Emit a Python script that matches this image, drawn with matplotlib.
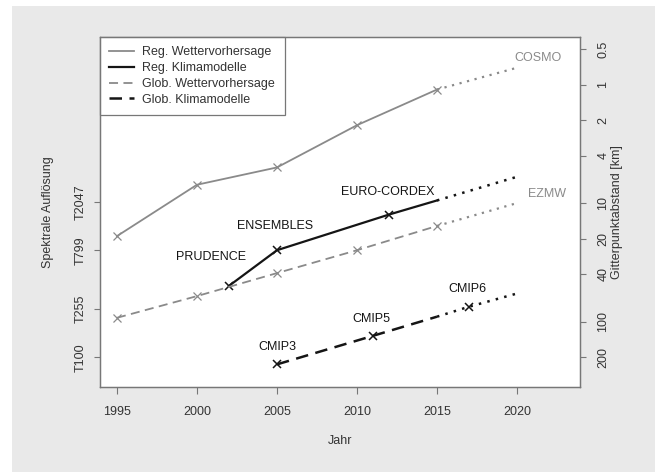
import matplotlib
matplotlib.use("Agg")
import matplotlib.pyplot as plt
from matplotlib.lines import Line2D
from matplotlib.patches import Rectangle

plt.rcParams['font.family'] = ['Liberation Sans', 'DejaVu Sans']
plt.rcParams['font.size'] = 9

GRAY = '#8a8a8a'
BLACK = '#151515'
TXT = '#333333'

# Daten (Gitterpunktabstand in km)
reg_wetter_jahre = [1995, 2000, 2005, 2010, 2015]
reg_wetter_km = [19, 7, 5, 2.2, 1.1]
reg_wetter_proj_jahre = [2015, 2020]
reg_wetter_proj_km = [1.1, 0.72]

reg_klima_jahre = [2002, 2005, 2012, 2015]
reg_klima_km = [50, 25, 12.5, 9.5]
reg_klima_proj_jahre = [2015, 2020]
reg_klima_proj_km = [9.5, 6]

glob_wetter_jahre = [1995, 2000, 2005, 2010, 2015]
glob_wetter_km = [93, 61, 39, 25, 15.6]
glob_wetter_proj_jahre = [2015, 2020]
glob_wetter_proj_km = [15.6, 10]

glob_klima_jahre = [2005, 2011, 2015]
glob_klima_km = [230, 132, 91]
glob_klima_proj_jahre = [2015, 2017, 2020]
glob_klima_proj_km = [91, 75, 58]

# Beschriftungen: (Text, Jahr, km, Farbe)
labels = [
    ('COSMO', 2021.3, 0.595, GRAY),
    ('EZMW', 2021.9, 8.4, GRAY),
    ('EURO-CORDEX', 2011.9, 8.06, BLACK),
    ('ENSEMBLES', 2004.9, 15.6, BLACK),
    ('PRUDENCE', 2000.9, 28.5, BLACK),
    ('CMIP3', 2005, 164, BLACK),
    ('CMIP5', 2010.9, 95, BLACK),
    ('CMIP6', 2016.9, 53, BLACK),
]

spektral_labels = ['T100', 'T255', 'T799', 'T2047']
spektral_T = [100, 255, 799, 2047]
km_ticks = [0.5, 1, 2, 4, 10, 20, 40, 100, 200]
jahr_ticks = [1995, 2000, 2005, 2010, 2015, 2020]

fig = plt.figure(figsize=(6.55, 4.72), dpi=100, facecolor='white')
fig.patches.append(Rectangle((12 / 655, 0), 1, 1 - 6 / 472, transform=fig.transFigure,
                             facecolor='#e9e9e9', edgecolor='none', zorder=-10))
ax = fig.add_axes([100 / 655, 1 - 387 / 472, 480 / 655, 350 / 472])
ax.set_facecolor('white')

dot = (0, (1, 2.5))
dash = (0, (5, 3))
ms = 5.5

ax.plot(reg_wetter_jahre, reg_wetter_km, color=GRAY, lw=1.3, marker='x', ms=ms, mew=0.9)
ax.plot(reg_wetter_proj_jahre, reg_wetter_proj_km, color=GRAY, lw=1.6, ls=dot)

ax.plot(reg_klima_jahre, reg_klima_km, color=BLACK, lw=1.6, marker='x', ms=ms, mew=1.1,
        markevery=[0, 1, 2])
ax.plot(reg_klima_proj_jahre, reg_klima_proj_km, color=BLACK, lw=1.8, ls=dot)

ax.plot(glob_wetter_jahre, glob_wetter_km, color=GRAY, lw=1.3, ls=dash, marker='x', ms=ms, mew=0.9)
ax.plot(glob_wetter_proj_jahre, glob_wetter_proj_km, color=GRAY, lw=1.6, ls=dot)

ax.plot(glob_klima_jahre, glob_klima_km, color=BLACK, lw=1.8, ls=dash, marker='x', ms=ms, mew=1.1,
        markevery=[0, 1])
ax.plot(glob_klima_proj_jahre, glob_klima_proj_km, color=BLACK, lw=1.8, ls=dot, marker='x', ms=ms,
        mew=1.1, markevery=[1])

for txt, x, y, c in labels:
    ax.text(x, y, txt, color=c, ha='center', va='center', fontsize=9)

ax.set_yscale('log')
ax.set_xlim(1993.94, 2023.94)
ax.set_ylim(357, 0.396)
ax.set_xticks(jahr_ticks)
ax.set_yticks([20000 / t for t in spektral_T])
ax.set_yticklabels(spektral_labels, rotation=90, va='center')
ax.minorticks_off()
ax.tick_params(axis='x', length=5, width=0.8, color='#777777', labelcolor=TXT, pad=9)
ax.tick_params(axis='y', length=4.5, width=0.8, color='#777777', labelcolor=TXT, pad=5)

ax2 = ax.twinx()
ax2.set_yscale('log')
ax2.set_ylim(357, 0.396)
ax2.set_yticks(km_ticks)
ax2.set_yticklabels([str(k) for k in km_ticks], rotation=90, va='center')
ax2.minorticks_off()
ax2.tick_params(axis='y', length=4.5, width=0.8, color='#777777', labelcolor=TXT, pad=8)

for a in (ax, ax2):
    for s in a.spines.values():
        s.set_color('#777777')
        s.set_linewidth(0.9)

handles = [
    Line2D([], [], color=GRAY, lw=1.3),
    Line2D([], [], color=BLACK, lw=1.6),
    Line2D([], [], color=GRAY, lw=1.3, ls=dash),
    Line2D([], [], color=BLACK, lw=1.8, ls=dash),
]
names = ['Reg. Wettervorhersage', 'Reg. Klimamodelle', 'Glob. Wettervorhersage', 'Glob. Klimamodelle']
leg = ax.legend(handles, names, loc='upper left', bbox_to_anchor=(0, 1), borderaxespad=0,
                fancybox=False, framealpha=1, edgecolor='#777777', fontsize=9,
                handlelength=2.0, labelspacing=0.3, borderpad=0.75, handletextpad=0.65)
leg.get_frame().set_linewidth(0.9)
for t in leg.get_texts():
    t.set_color(TXT)

fig.text(340 / 655, 1 - 441 / 472, 'Jahr', ha='center', va='center', color=TXT, fontsize=9)
fig.text(48 / 655, 1 - 212 / 472, 'Spektrale Auflösung', ha='center', va='center',
         rotation=90, color=TXT, fontsize=9)
fig.text(617 / 655, 1 - 212 / 472, 'Gitterpunktabstand [km]', ha='center', va='center',
         rotation=90, color=TXT, fontsize=9)

fig.savefig('out.png', dpi=100, facecolor=fig.get_facecolor())
